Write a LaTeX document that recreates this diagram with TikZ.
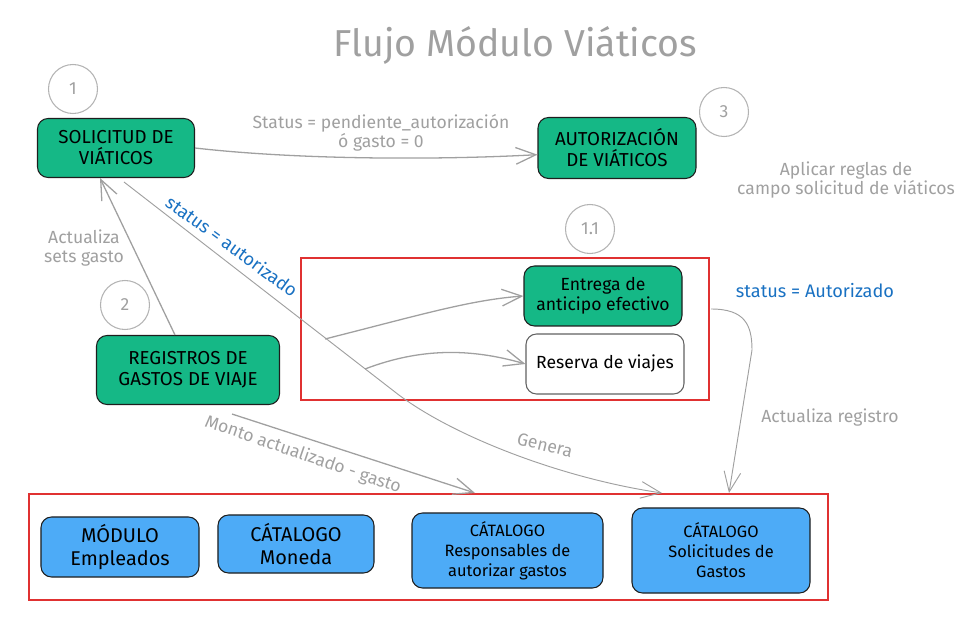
\documentclass[tikz,border=0pt]{standalone}
\usepackage{fontspec}
\setmainfont{Fira Sans}
\usetikzlibrary{arrows.meta, positioning}
\definecolor{cgreen}{HTML}{15B886}
\definecolor{cblue}{HTML}{4DABF7}
\definecolor{cred}{HTML}{E03131}
\definecolor{cgrey}{HTML}{A0A0A0}
\definecolor{cdark}{HTML}{1E1E1E}
\definecolor{clink}{HTML}{1971C2}
\tikzset{
  every picture/.style={line width=1pt},
  box/.style={draw=cdark, fill=#1, rounded corners=9pt, align=center, line width=0.9pt, font=\fontsize{16}{18}\selectfont},
  box/.default=cgreen,
  frame/.style={draw=cred, line width=1.6pt},
  arrow/.style={-{Straight Barb[length=6mm, width=5mm]}, draw=cgrey, line width=1.1pt},
  note/.style={text=cgrey, align=center, font=\fontsize{15}{16.5}\selectfont},
  link/.style={text=clink, font=\fontsize{15.5}{17}\selectfont},
}
\begin{document}
\begin{tikzpicture}[x=0.03cm, y=-0.03cm, num/.style={circle, draw=cgrey!80, line width=0.9pt, minimum size=1.47cm, text=cgrey, font=\fontsize{15}{17}\selectfont}]
  \useasboundingbox (0,0) rectangle (973,628);
  \node[text=cgrey, font=\fontsize{32}{36}\selectfont] (title) at (515,45) {Flujo Módulo Viáticos};
  % main flow
  \node[box, minimum width=4.71cm, minimum height=1.77cm] (sol) at (116,148) {SOLICITUD DE\\VIÁTICOS};
  \node[box, minimum width=4.74cm, minimum height=1.83cm] (aut) at (617,148) {AUTORIZACIÓN\\DE VIÁTICOS};
  \node[box, minimum width=5.49cm, minimum height=2.07cm] (reg) at (188,370) {REGISTROS DE\\GASTOS DE VIAJE};
  \node[num] (n1) at (73,89) {1};
  \node[num] (n3) at (724,112) {3};
  \node[num] (n11) at (590,229) {1.1};
  \node[num] (n2) at (125,305) {2};
  % group 1.1
  \node[frame, minimum width=12.24cm, minimum height=4.26cm] (grp1) at (505,329) {};
  \node[box, minimum width=4.74cm, minimum height=1.8cm, font=\fontsize{15}{17}\selectfont] (ent) at (603,296) {Entrega de\\anticipo efectivo};
  \node[box=white, draw=cdark!70, minimum width=4.74cm, minimum height=1.8cm, font=\fontsize{15}{17}\selectfont] (res) at (605,364) {Reserva de viajes};
  % catalogs
  \node[frame, minimum width=23.97cm, minimum height=3.18cm] (grp2) at (428.5,547) {};
  \node[box=cblue, minimum width=4.74cm, minimum height=1.8cm, font=\fontsize{17}{20}\selectfont] (emp) at (120,547) {MÓDULO\\Empleados};
  \node[box=cblue, minimum width=4.68cm, minimum height=1.74cm, font=\fontsize{17}{20}\selectfont] (mon) at (296,544) {CÁTALOGO\\Moneda};
  \node[box=cblue, minimum width=5.73cm, minimum height=2.25cm, font=\fontsize{14}{17}\selectfont] (resp) at (507.5,550.5) {CÁTALOGO\\Responsables de\\autorizar gastos};
  \node[box=cblue, minimum width=5.34cm, minimum height=2.55cm, font=\fontsize{14}{17}\selectfont] (solg) at (721,550.5) {CÁTALOGO\\Solicitudes de\\Gastos};
  % free ends
  \coordinate (solstart) at (124,182);
  \coordinate (bend) at (395,392);
  \coordinate (genend) at (662,493);
  \coordinate (b1) at (325,339);
  \coordinate (b2) at (365,369);
  \coordinate (r1) at (711,309);
  \coordinate (regend) at (729,493);
  \coordinate (montoend) at (475,493);
  % connectors
  \draw[arrow] (sol.east) .. controls (300,160) and (440,160) .. ([yshift=-0.2cm]aut.west);
  \draw[arrow] ([xshift=-0.39cm]reg.north) -- ([xshift=-0.48cm]sol.south);
  \draw[arrow, line width=0.8pt] (solstart) -- (bend) .. controls (450,435) and (560,478) .. (genend);
  \draw[arrow] (b1) .. controls (420,315) and (470,300) .. (ent.west);
  \draw[arrow] (b2) .. controls (420,348) and (470,348) .. (res.west);
  \draw[arrow, line width=0.8pt] (r1) .. controls (745,309) and (752,325) .. (752,350) -- (regend);
  \draw[arrow] ([shift={(44,9)}]reg.south) -- (montoend);
  % labels
  \node[note] (lpend) at (381,133) {Status = pendiente\_autorización\\ó gasto = 0};
  \node[note] (lregla) at (846,180) {Aplicar reglas de\\campo solicitud de viáticos};
  \node[note] (lsets) at (84,248) {Actualiza\\sets gasto};
  \node[link, rotate=-36] (laut) at (232,246) {status = autorizado};
  \node[link] (lAut) at (815,291) {status = Autorizado};
  \node[note] (lreg) at (830,418) {Actualiza registro};
  \node[note, rotate=-19] (lmonto) at (303,455) {Monto actualizado - gasto};
  \node[note, rotate=-14] (lgen) at (545,445) {Genera};
\end{tikzpicture}
\end{document}
